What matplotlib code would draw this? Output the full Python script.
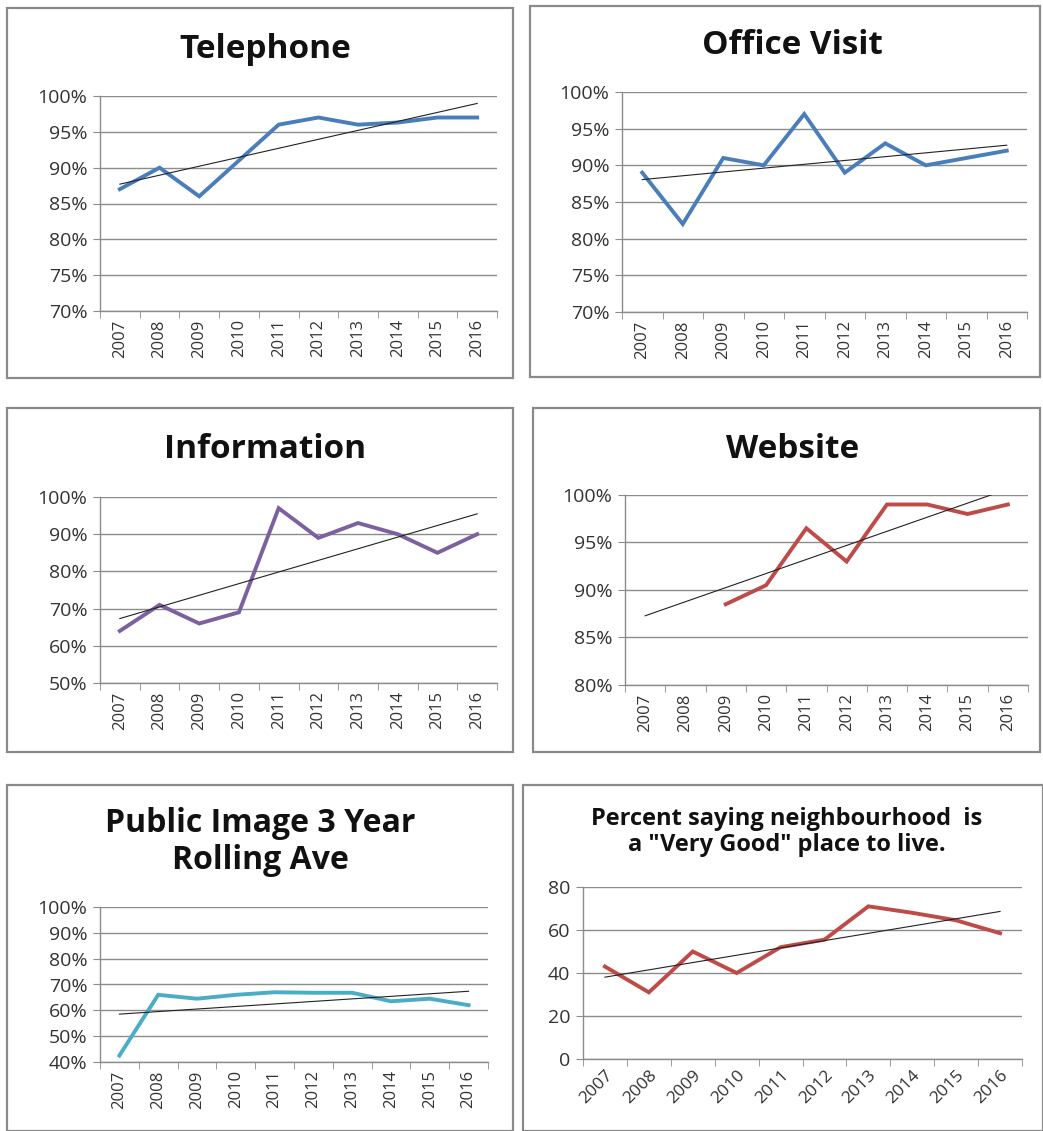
import numpy as np
import matplotlib
matplotlib.use("Agg")
import matplotlib.pyplot as plt
from matplotlib.patches import Rectangle
from matplotlib.ticker import FixedLocator


YEARS = ['2007', '2008', '2009', '2010', '2011', '2012', '2013', '2014', '2015', '2016']

TELEPHONE = [87, 90, 86, 91, 96, 97, 96, 96.3, 97, 97]
OFFICE_VISIT = [89, 82, 91, 90, 97, 89, 93, 90, 91, 92]
INFORMATION = [64, 71, 66, 69, 97, 89, 93, 90, 85, 90]
WEBSITE = [np.nan, np.nan, 88.5, 90.5, 96.5, 93, 99, 99, 98, 99]
PUBLIC_IMAGE = [42.5, 66, 64.5, 66, 67, 66.8, 66.8, 63.5, 64.5, 62]
NEIGHBOURHOOD = [43, 31, 50, 40, 52, 55.5, 71, 68, 64.5, 58.5]

W, H = 1043, 1131

plt.rcParams['font.family'] = ['Open Sans', 'DejaVu Sans']


def fig_rect(x0, y0, x1, y1):
    # pixel box (top-left origin) -> figure fraction
    return [x0 / W, 1 - y1 / H, (x1 - x0) / W, (y1 - y0) / H]


def draw_panel(fig, frame, box, title, title_xy, title_size, values, color,
               yticks, pct=True, rot=90):
    fx0, fy0, fx1, fy1 = frame
    fig.patches.append(Rectangle((fx0 / W, 1 - fy1 / H), (fx1 - fx0) / W, (fy1 - fy0) / H,
                                 transform=fig.transFigure, fill=False,
                                 edgecolor='#8a8a8a', linewidth=1.6))
    fig.text(title_xy[0] / W, 1 - title_xy[1] / H, title, ha='center', va='center',
             fontsize=title_size, fontweight='bold', color='#111111', linespacing=1.15)

    ax = fig.add_axes(fig_rect(*box))
    x = np.arange(len(YEARS))
    y = np.array(values, dtype=float)
    ax.plot(x, y, color=color, linewidth=2.8, solid_joinstyle='miter', zorder=3)

    # linear trendline, fitted on the points that exist
    ok = ~np.isnan(y)
    k, b = np.polyfit(x[ok], y[ok], 1)
    ax.plot(x, k * x + b, color='#222222', linewidth=0.8, zorder=4)

    ax.set_xlim(-0.5, len(YEARS) - 0.5)
    ax.set_ylim(yticks[0], yticks[-1])
    ax.set_yticks(yticks)
    ax.set_yticklabels([f"{v}%" if pct else f"{v}" for v in yticks])
    ax.yaxis.grid(True, color='#8c8c8c', linewidth=1.0)
    ax.set_axisbelow(True)

    ax.set_xticks(x)
    if rot == 90:
        ax.set_xticklabels(YEARS, rotation=90, fontsize=12)
    else:
        ax.set_xticklabels(YEARS, rotation=45, ha='right', rotation_mode='anchor', fontsize=12.5)
    ax.tick_params(axis='x', length=0, pad=6, colors='#333333')
    ax.xaxis.set_minor_locator(FixedLocator(np.arange(-0.5, len(YEARS), 1.0)))
    ax.tick_params(axis='x', which='minor', length=5, color='#8c8c8c', direction='out')
    ax.tick_params(axis='y', length=5, color='#8c8c8c', labelsize=14, labelcolor='#333333', pad=4)

    for side in ['top', 'right']:
        ax.spines[side].set_visible(False)
    for side in ['left', 'bottom']:
        ax.spines[side].set_color('#8c8c8c')
        ax.spines[side].set_linewidth(1.0)
    return ax


fig = plt.figure(figsize=(W / 100, H / 100), dpi=100)

draw_panel(fig, (7, 8, 513, 378), (100, 96, 497, 311), 'Telephone', (265, 50), 24,
           TELEPHONE, '#4a7ebb', [70, 75, 80, 85, 90, 95, 100])
draw_panel(fig, (530, 6, 1040, 377), (622, 92, 1027, 312), 'Office Visit', (792, 45), 24,
           OFFICE_VISIT, '#4a7ebb', [70, 75, 80, 85, 90, 95, 100])
draw_panel(fig, (7, 408, 513, 752), (100, 497, 497, 683), 'Information', (265, 450), 24,
           INFORMATION, '#7d60a0', [50, 60, 70, 80, 90, 100])
draw_panel(fig, (533, 408, 1040, 752), (625, 495, 1028, 685), 'Website', (793, 450), 24,
           WEBSITE, '#be4b48', [80, 85, 90, 95, 100])
draw_panel(fig, (7, 785, 513, 1131), (100, 907, 488, 1062), 'Public Image 3 Year\nRolling Ave',
           (260, 842), 23, PUBLIC_IMAGE, '#4bacc6', [40, 50, 60, 70, 80, 90, 100])
draw_panel(fig, (523, 785, 1043, 1131), (583, 887, 1022, 1059),
           'Percent saying neighbourhood  is\na "Very Good" place to live.', (787, 832), 17,
           NEIGHBOURHOOD, '#be4b48', [0, 20, 40, 60, 80], pct=False, rot=45)

fig.savefig('out.png', dpi=100, facecolor='white')
